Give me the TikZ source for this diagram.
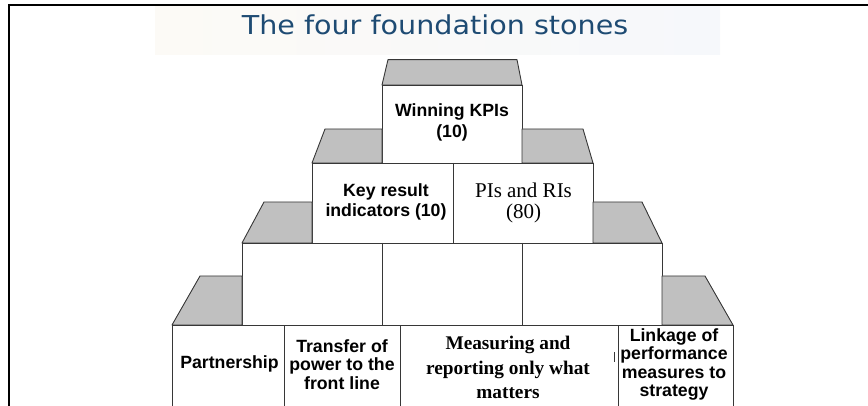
\documentclass[tikz,border=0pt]{standalone}
\usepackage{fontspec}
\setmainfont{Liberation Serif}
\setsansfont{Liberation Sans}
\newfontfamily\titlefont{DejaVu Sans}
\definecolor{titleblue}{RGB}{30,75,115}
\definecolor{stone}{RGB}{192,192,192}
\definecolor{edgec}{RGB}{55,55,55}
\definecolor{washl}{RGB}{252,250,246}
\definecolor{washr}{RGB}{246,248,251}
\tikzset{
  face/.style={fill=white,draw=edgec,line width=0.9pt,line join=miter},
  capstone/.style={fill=stone,draw=edgec,line width=0.9pt,line join=round},
  sanslbl/.style={font=\sffamily\bfseries\fontsize{17.7}{20.5}\selectfont,align=center,inner sep=0pt},
  sanstight/.style={font=\sffamily\bfseries\fontsize{17.7}{18.5}\selectfont,align=center,inner sep=0pt},
  seriflbl/.style={font=\fontsize{21}{21}\selectfont,align=center,inner sep=0pt},
  serifbold/.style={font=\bfseries\fontsize{19.3}{24.5}\selectfont,align=center,inner sep=0pt},
}
\begin{document}
\begin{tikzpicture}[x=1pt,y=-1pt]
\useasboundingbox (0,0) rectangle (868,406);
\clip (0,0) rectangle (868,406);
% faint title backdrop
\shade[left color=washl,right color=washr] (155,6) rectangle (720,55);
% frame
\draw[line width=2pt] (9,407) -- (9,5) -- (869,5);
% title
\node[anchor=base,inner sep=0pt,text=titleblue,font=\titlefont\fontsize{26}{30}\selectfont] (title) at (435,35) {\scalebox{1.1}[1]{The four foundation stones}};
% level 1
\draw[capstone] (382,85) -- (388,59.6) -- (517,59.6) -- (522,85) -- cycle;
\draw[face] (382,85) rectangle (522,163);
% level 2
\draw[capstone] (312,163) -- (325,129) -- (382,129) -- (382,163) -- cycle;
\draw[capstone] (522,129) -- (583,129) -- (593,163) -- (522,163) -- cycle;
\draw[face] (312,163) rectangle (593,243);
\draw[face] (453,163) -- (453,243);
% level 3
\draw[capstone] (242,243) -- (264,202) -- (312,202) -- (312,243) -- cycle;
\draw[capstone] (593,202) -- (642,202) -- (662,243) -- (593,243) -- cycle;
\draw[face] (242,243) rectangle (662,325);
\draw[face] (382,243) -- (382,325);
\draw[face] (522,243) -- (522,325);
% level 4
\draw[capstone] (172,325) -- (200,276) -- (242,276) -- (242,325) -- cycle;
\draw[capstone] (662,276) -- (705,276) -- (733,325) -- (662,325) -- cycle;
\draw[face] (172,325) rectangle (733,420);
\draw[face] (284,325) -- (284,420);
\draw[face] (400,325) -- (400,420);
\draw[face] (618,325) -- (618,420);
\draw[edgec,line width=1pt] (614,352) -- (614,362);
% labels
\node[sanslbl] (kpi) at (452,122.5) {Winning KPIs\\(10)};
\node[sanslbl] (kri) at (386,202) {Key result\\indicators (10)};
\node[seriflbl] (pri) at (523.5,203) {PIs and RIs\\(80)};
\node[sanslbl] (part) at (229.5,364) {Partnership};
\node[sanstight] (trans) at (342,364.5) {Transfer of\\power to the\\front line};
\node[serifbold] (meas) at (508,367.5) {Measuring and\\reporting only what\\matters};
\node[sanstight] (link) at (674,364.5) {Linkage of\\performance\\measures to\\strategy};
\end{tikzpicture}
\end{document}
